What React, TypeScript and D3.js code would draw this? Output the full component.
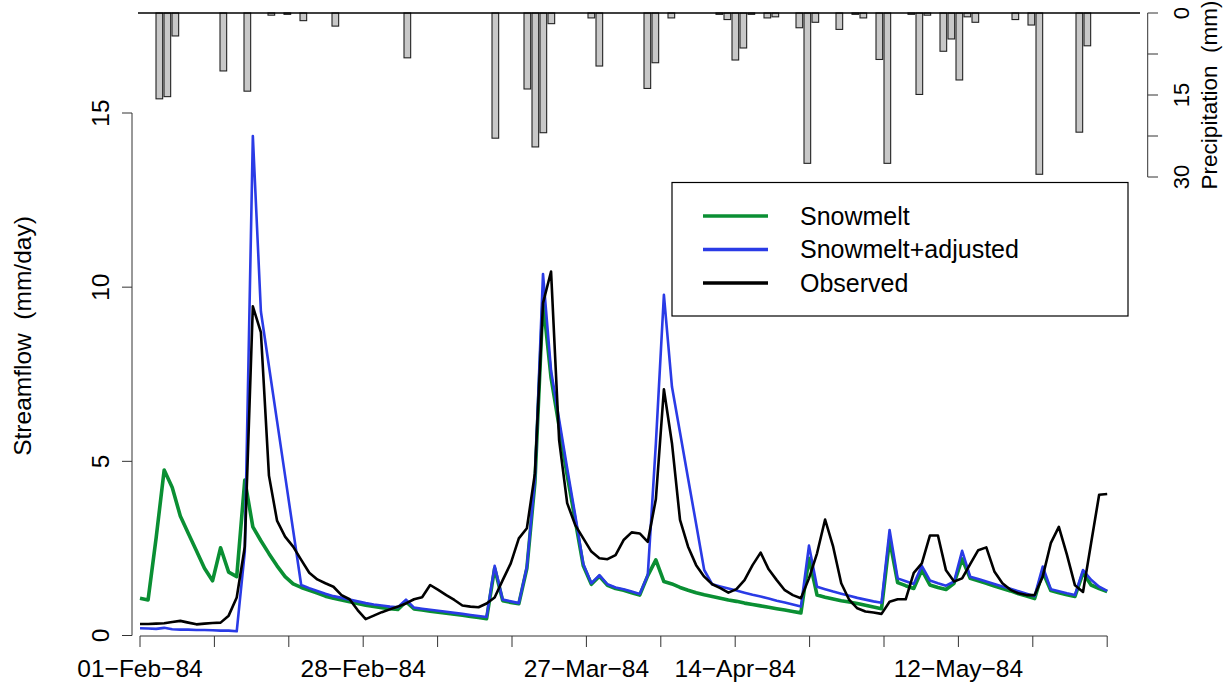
import React from "react";
import * as d3 from "d3";

// Tick labels along the date axis (14 ticks, only some labelled)
const tickLabels: string[] = [
  "01-Feb-84", "", "", "28-Feb-84", "", "", "27-Mar-84", "", "14-Apr-84", "", "", "12-May-84", "", "",
];

// Daily precipitation (mm), 01-Feb-84 .. 31-May-84 (121 days)
const precipitation: number[] = [
  0, 0, 15.7, 15.3, 4.2, 0, 0, 0, 0, 0,
  10.6, 0, 0, 14.3, 0, 0, 0.4, 0, 0.25, 0,
  1.4, 0, 0, 0, 2.4, 0, 0, 0, 0, 0,
  0, 0, 0, 8.2, 0, 0, 0, 0, 0, 0,
  0, 0, 0, 0, 22.9, 0, 0, 0, 13.9, 24.5,
  21.9, 1.95, 0, 0, 0, 0, 0.9, 9.7, 0, 0,
  0, 0, 0, 13.8, 9.1, 0, 0.9, 0, 0, 0,
  0, 0, 0.25, 1.2, 8.6, 6.4, 0.25, 0, 0.9, 0.7,
  0, 0, 2.7, 27.5, 1.7, 0, 0, 3.0, 0, 0.25,
  0.9, 0, 8.5, 27.5, 0, 0, 0.25, 14.9, 0.4, 0,
  7.0, 4.75, 12.25, 0.7, 1.7, 0, 0, 0, 0, 1.2,
  0, 2.2, 29.5, 0, 0, 0, 0, 21.8, 6.0, 0,
  0,
];

// Streamflow (mm/day)
const snowmelt: number[] = [
  1.07, 1.02, 2.8, 4.75, 4.25, 3.43, 2.93, 2.43, 1.93, 1.57,
  2.52, 1.82, 1.69, 4.46, 3.12, 2.72, 2.35, 2.0, 1.69, 1.48,
  1.38, 1.3, 1.22, 1.13, 1.07, 1.02, 0.97, 0.92, 0.87, 0.83,
  0.8, 0.77, 0.75, 0.97, 0.76, 0.73, 0.7, 0.67, 0.64, 0.61,
  0.58, 0.55, 0.52, 0.48, 1.93, 1.0, 0.95, 0.91, 1.93, 4.4,
  9.6, 7.4, 6.0, 4.6, 3.3, 2.0, 1.47, 1.7, 1.44, 1.35,
  1.3, 1.23, 1.16, 1.72, 2.17, 1.55, 1.48, 1.38, 1.3, 1.23,
  1.17, 1.12, 1.07, 1.02, 0.98, 0.93, 0.89, 0.85, 0.81, 0.77,
  0.73, 0.69, 0.65, 2.22, 1.16, 1.1, 1.05, 1.0, 0.96, 0.92,
  0.87, 0.82, 0.77, 2.76, 1.52, 1.43, 1.35, 1.88, 1.45, 1.38,
  1.32, 1.5, 2.2, 1.64, 1.57, 1.5, 1.42, 1.35, 1.28, 1.2,
  1.13, 1.06, 1.83, 1.29, 1.23, 1.17, 1.12, 1.8, 1.45, 1.35,
  1.26,
];

const adjusted: number[] = [
  0.21, 0.2, 0.19, 0.22, 0.18, 0.17, 0.17, 0.16, 0.16, 0.15,
  0.14, 0.14, 0.12, 2.4, 14.34, 9.3, 7.73, 6.16, 4.59, 3.02,
  1.45, 1.36, 1.28, 1.2, 1.13, 1.08, 1.03, 0.98, 0.93, 0.89,
  0.86, 0.83, 0.81, 1.03, 0.8, 0.77, 0.74, 0.71, 0.68, 0.65,
  0.62, 0.59, 0.56, 0.53, 2.0, 1.03, 0.98, 0.93, 1.97, 4.5,
  10.38, 7.6, 6.2, 4.8, 3.45, 2.05, 1.5, 1.73, 1.47, 1.38,
  1.33, 1.26, 1.19, 1.74, 5.5, 9.78, 7.14, 5.83, 4.51, 3.2,
  1.88, 1.47, 1.41, 1.35, 1.29, 1.23, 1.17, 1.12, 1.06, 1.0,
  0.95, 0.89, 0.83, 2.58, 1.4, 1.33, 1.26, 1.2, 1.14, 1.08,
  1.03, 0.98, 0.94, 3.03, 1.64, 1.56, 1.48, 2.0, 1.58, 1.5,
  1.43, 1.55, 2.43, 1.69, 1.62, 1.55, 1.48, 1.41, 1.34, 1.27,
  1.2, 1.13, 1.98, 1.33, 1.27, 1.21, 1.16, 1.88, 1.6, 1.4,
  1.28,
];

const observed: number[] = [
  0.33, 0.33, 0.34, 0.35, 0.39, 0.42, 0.37, 0.32, 0.34, 0.36,
  0.37, 0.57, 1.09, 2.55, 9.45, 8.7, 4.59, 3.3, 2.84, 2.55,
  2.17, 1.8, 1.61, 1.5, 1.4, 1.16, 1.04, 0.73, 0.47, 0.57,
  0.67, 0.75, 0.83, 0.92, 1.04, 1.1, 1.45, 1.31, 1.16, 1.02,
  0.86, 0.83, 0.81, 0.92, 1.09, 1.59, 2.07, 2.79, 3.08, 4.66,
  9.54, 10.45, 5.61, 3.8, 3.17, 2.79, 2.41, 2.22, 2.19, 2.31,
  2.74, 2.96, 2.93, 2.69, 3.91, 7.07, 5.52, 3.32, 2.55, 2.02,
  1.69, 1.47, 1.36, 1.23, 1.33, 1.59, 2.02, 2.38, 1.9, 1.59,
  1.3, 1.16, 1.07, 1.64, 2.36, 3.33, 2.55, 1.5, 1.02, 0.78,
  0.69, 0.66, 0.62, 0.97, 1.04, 1.04, 1.8, 2.07, 2.87, 2.87,
  1.87, 1.55, 1.64, 2.05, 2.45, 2.53, 1.84, 1.5, 1.31, 1.21,
  1.16, 1.16, 1.69, 2.65, 3.12, 2.32, 1.44, 1.25, 2.65, 4.04,
  4.06,
];

const flowTicks: number[] = [0, 5, 10, 15];
const precipTicks: number[] = [0, 7.5, 15, 22.5, 30];
const precipTickLabels: number[] = [0, 15, 30];

const seriesNames: string[] = ["Snowmelt", "Snowmelt+adjusted", "Observed"];
const seriesColors: string[] = ["#0a8f33", "#2a3be6", "#000000"];
const seriesWidths: number[] = [3.6, 2.6, 2.6];

const FONT = "'Liberation Sans', Arial, Helvetica, sans-serif";

export default function App() {
  const W = 1225;
  const H = 688;
  const nDays = observed.length;

  const x = d3.scaleLinear().domain([0, nDays - 1]).range([140, 1107.2]);
  const y = d3.scaleLinear().domain([0, 15]).range([635.5, 113]);
  const py = d3.scaleLinear().domain([0, 30]).range([13, 177]);
  const bx = d3.scaleLinear().domain([0, 1]).range([140, 148]);
  const barW = (bx(1) - bx(0)) / 1.2;

  const line = d3
    .line<number>()
    .x((_, i) => x(i))
    .y((d) => y(d));

  const series = [snowmelt, adjusted, observed];
  const nTicks = tickLabels.length;
  const tickDays = tickLabels.map((_, k) => (k * (nDays - 1)) / (nTicks - 1));
  const dash = (s: string) => s.replace(/-/g, "\u2212");

  const legendY = [216, 249.5, 283];

  return (
    <svg
      width={W}
      height={H}
      style={{ position: "absolute", left: 0, top: 0, background: "#fff" }}
      fontFamily={FONT}
    >
      <rect x={0} y={0} width={W} height={H} fill="#fff" />

      {/* Precipitation bars */}
      {precipitation.map((p, k) =>
        p > 0 ? (
          <rect
            key={"b" + k}
            x={bx(k)}
            y={py(0)}
            width={barW}
            height={py(p) - py(0)}
            fill="#c8c8c8"
            stroke="#222"
            strokeWidth={1.1}
          />
        ) : null
      )}
      <line x1={138} x2={1140} y1={py(0)} y2={py(0)} stroke="#000" strokeWidth={1.3} />

      {/* Precipitation axis (right) */}
      <line x1={1147.7} x2={1147.7} y1={py(0)} y2={py(30)} stroke="#333" strokeWidth={1} />
      {precipTicks.map((t) => (
        <line key={"pt" + t} x1={1147.7} x2={1158} y1={py(t)} y2={py(t)} stroke="#333" strokeWidth={1} />
      ))}
      {precipTickLabels.map((t) => (
        <text
          key={"pl" + t}
          transform={`translate(1189,${py(t)}) rotate(-90)`}
          textAnchor="middle"
          fontSize={22}
        >
          {t}
        </text>
      ))}
      <text
        transform={`translate(1217,95) rotate(-90)`}
        textAnchor="middle"
        fontSize={22.5}
        style={{ whiteSpace: "pre" }}
      >
        {"Precipitation  (mm)"}
      </text>

      {/* Streamflow lines */}
      {series.map((s, i) => (
        <path
          key={"s" + i}
          d={line(s) || ""}
          fill="none"
          stroke={seriesColors[i]}
          strokeWidth={seriesWidths[i]}
          strokeLinejoin="round"
        />
      ))}

      {/* Left axis */}
      <line x1={132} x2={132} y1={y(0)} y2={y(15)} stroke="#333" strokeWidth={1} />
      {flowTicks.map((t) => (
        <g key={"yt" + t}>
          <line x1={122} x2={132} y1={y(t)} y2={y(t)} stroke="#333" strokeWidth={1} />
          <text transform={`translate(109,${y(t)}) rotate(-90)`} textAnchor="middle" fontSize={24.5}>
            {t}
          </text>
        </g>
      ))}
      <text
        transform={`translate(31,336) rotate(-90)`}
        textAnchor="middle"
        fontSize={24.5}
        style={{ whiteSpace: "pre" }}
      >
        {"Streamflow  (mm/day)"}
      </text>

      {/* Bottom axis */}
      <line x1={x(0)} x2={x(nDays - 1)} y1={636} y2={636} stroke="#333" strokeWidth={1} />
      {tickDays.map((d, k) => (
        <g key={"xt" + k}>
          <line x1={x(d)} x2={x(d)} y1={636} y2={647} stroke="#333" strokeWidth={1} />
          {tickLabels[k] ? (
            <text x={x(d)} y={677} textAnchor="middle" fontSize={24.5}>
              {dash(tickLabels[k])}
            </text>
          ) : null}
        </g>
      ))}

      {/* Legend */}
      <rect x={672} y={182.5} width={456} height={133.5} fill="#fff" stroke="#000" strokeWidth={1.2} />
      {seriesNames.map((n, i) => (
        <g key={"lg" + i}>
          <line
            x1={703}
            x2={768}
            y1={legendY[i]}
            y2={legendY[i]}
            stroke={seriesColors[i]}
            strokeWidth={3.3}
          />
          <text x={800} y={legendY[i] + 8.6} fontSize={25}>
            {n}
          </text>
        </g>
      ))}
    </svg>
  );
}
